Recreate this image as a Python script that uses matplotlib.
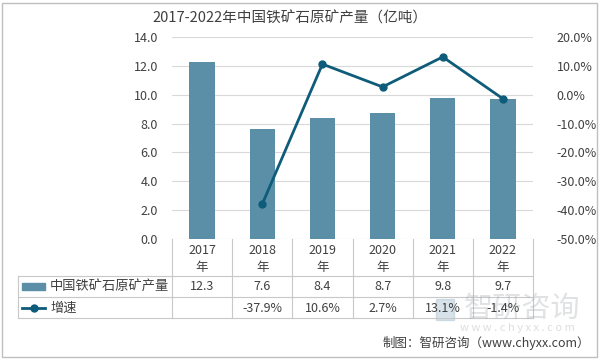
import matplotlib
matplotlib.use('Agg')
import matplotlib.pyplot as plt
from matplotlib import transforms
from matplotlib.lines import Line2D
from matplotlib.patches import Rectangle

plt.rcParams['font.family'] = ['Noto Sans CJK SC', 'DejaVu Sans']

# data
years = ['2017', '2018', '2019', '2020', '2021', '2022']
output = [12.3, 7.6, 8.4, 8.7, 9.8, 9.7]          # 亿吨
growth = [None, -37.9, 10.6, 2.7, 13.1, -1.4]     # %
bar_name = '中国铁矿石原矿产量'
line_name = '增速'

bar_color = '#5B8FA8'
line_color = '#0E5C7A'
txt_color = '#404040'
grid_color = '#d9d9d9'

fig = plt.figure(figsize=(6, 3.6), dpi=100)
W, H = 600, 360

def fy(py):
    return 1 - py / H

ax = fig.add_axes([172 / W, fy(239), 361 / W, (239 - 37) / H])
x = list(range(len(years)))
ax.bar(x, output, width=0.42, color=bar_color, zorder=3)
ax.set_xlim(-0.5, len(years) - 0.5)
ax.set_ylim(0, 14)
ax.set_yticks([0, 2, 4, 6, 8, 10, 12, 14])
ax.set_yticklabels([f'{v:.1f}' for v in ax.get_yticks()])
ax.set_xticks([])
ax.grid(axis='y', color=grid_color, lw=0.8, zorder=0)
for s in ax.spines.values():
    s.set_visible(False)
ax.tick_params(axis='y', length=0, pad=10, labelsize=9, labelcolor=txt_color)

ax2 = ax.twinx()
gx = [i for i, g in zip(x, growth) if g is not None]
gy = [g for g in growth if g is not None]
ax2.plot(gx, gy, color=line_color, lw=2, marker='o', ms=5, zorder=4)
ax2.set_ylim(-50, 20)
ax2.set_yticks(range(-50, 21, 10))
ax2.set_yticklabels([f'{v:.1f}%' for v in range(-50, 21, 10)])
for s in ax2.spines.values():
    s.set_visible(False)
ax2.tick_params(axis='y', length=0, pad=17, labelsize=9, labelcolor=txt_color)

# title
fig.text(290 / W, fy(18), '2017-2022年中国铁矿石原矿产量（亿吨）', ha='center', va='center',
         fontsize=10.5, color=txt_color)

# data table
bt = transforms.blended_transform_factory(ax.transData, fig.transFigure)
tline = '#c8c8c8'
n = len(years)
for k in range(n + 1):
    fig.add_artist(Line2D([k - 0.5, k - 0.5], [fy(239), fy(318)], transform=bt, color=tline, lw=0.8))
for py in (276, 297, 318):
    fig.add_artist(Line2D([18 / W, 533 / W], [fy(py), fy(py)], transform=fig.transFigure, color=tline, lw=0.8))
fig.add_artist(Line2D([18 / W, 18 / W], [fy(276), fy(318)], transform=fig.transFigure, color=tline, lw=0.8))

for i, yr in enumerate(years):
    fig.text(i, fy(250), yr, transform=bt, ha='center', va='center', fontsize=9, color=txt_color)
    fig.text(i, fy(267), '年', transform=bt, ha='center', va='center', fontsize=9, color=txt_color)
    fig.text(i, fy(287), f'{output[i]:.1f}', transform=bt, ha='center', va='center', fontsize=9, color=txt_color)
    if growth[i] is not None:
        fig.text(i, fy(308), f'{growth[i]:.1f}%', transform=bt, ha='center', va='center', fontsize=9,
                 color=txt_color, zorder=5)

# legend keys in table
fig.add_artist(Rectangle((22 / W, fy(290)), 23 / W, 7 / H, transform=fig.transFigure, color=bar_color))
fig.text(50 / W, fy(287), bar_name, ha='left', va='center', fontsize=9.5, color=txt_color)
fig.add_artist(Line2D([22 / W, 45 / W], [fy(308), fy(308)], transform=fig.transFigure,
                      color=line_color, lw=2))
fig.add_artist(Line2D([33.5 / W], [fy(308)], transform=fig.transFigure,
                      color=line_color, marker='o', ms=5, lw=0))
fig.text(50 / W, fy(308), line_name, ha='left', va='center', fontsize=9.5, color=txt_color)

# watermark
fig.text(522 / W, fy(309), '智研咨询', ha='center', va='center', fontsize=21, color='#9aa0a6', alpha=0.3)
fig.add_artist(Rectangle((436 / W, fy(320)), 18 / W, 21 / H, transform=fig.transFigure,
                         color='#7fa3b8', alpha=0.3))
fig.text(517 / W, fy(328), 'w w w . c h y x x . c o m', ha='center', va='center', fontsize=8,
         color='#9aa0a6', alpha=0.35)

# source
fig.text(590 / W, fy(343), '制图：智研咨询（www.chyxx.com）', ha='right', va='center', fontsize=9, color=txt_color)

# outer frame
fig.add_artist(Rectangle((2 / W, 3 / H), 595 / W, 354 / H, transform=fig.transFigure,
                         fill=False, edgecolor='#bfbfbf', lw=1))

fig.savefig('out.png', dpi=100)
